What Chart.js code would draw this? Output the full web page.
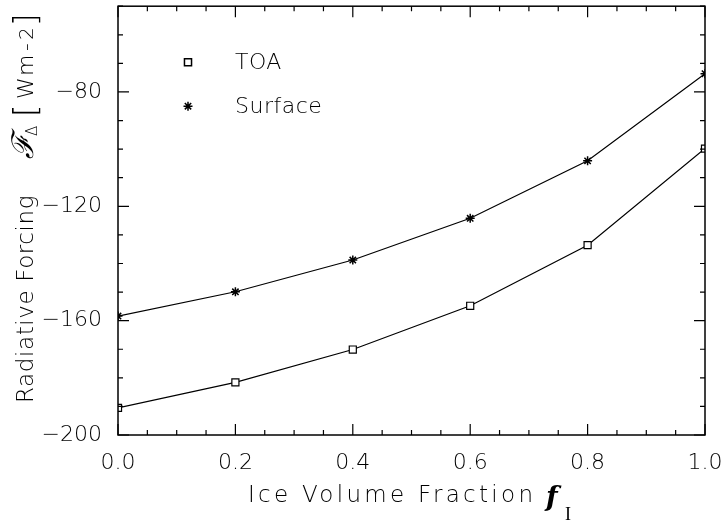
<!DOCTYPE html>
<html>
<head>
<meta charset="utf-8">
<script src="https://cdn.jsdelivr.net/npm/chart.js@4/dist/chart.umd.min.js"></script>
<style>
  html, body { margin: 0; padding: 0; background: #fff; }
  #wrap { width: 724px; height: 522px; }
</style>
</head>
<body>
<div id="wrap"><canvas id="chart" width="724" height="522"></canvas></div>
<script>
// data
const fractions = [0.0, 0.2, 0.4, 0.6, 0.8, 1.0];
const toaForcing = [-190.5, -181.6, -170.1, -154.8, -133.6, -99.8];
const surfaceForcing = [-158.4, -149.9, -138.8, -124.2, -104.1, -73.6];
const seriesNames = ['TOA', 'Surface'];
const yLabelValues = [-200, -160, -120, -80];
const xLabelValues = [0.0, 0.2, 0.4, 0.6, 0.8, 1.0];

const FONT = '"DejaVu Sans", sans-serif';
const W = '200';
const toPoints = ys => fractions.map((x, i) => ({ x, y: ys[i] }));

// frame on four sides with inward ticks
const framePlugin = {
  id: 'frame',
  afterDatasetsDraw(chart) {
    const { ctx, chartArea: a, scales } = chart;
    ctx.save();
    ctx.strokeStyle = '#000';
    ctx.lineWidth = 1.5;
    ctx.strokeRect(a.left, a.top, a.right - a.left, a.bottom - a.top);
    ctx.lineWidth = 1.2;
    ctx.beginPath();
    scales.x.ticks.forEach(t => {
      const px = scales.x.getPixelForValue(t.value);
      const major = xLabelValues.some(v => Math.abs(v - t.value) < 1e-6);
      const len = major ? 11 : 5;
      ctx.moveTo(px, a.bottom); ctx.lineTo(px, a.bottom - len);
      ctx.moveTo(px, a.top); ctx.lineTo(px, a.top + len);
    });
    scales.y.ticks.forEach(t => {
      const py = scales.y.getPixelForValue(t.value);
      const major = yLabelValues.includes(t.value);
      const len = major ? 11 : 5;
      ctx.moveTo(a.left, py); ctx.lineTo(a.left + len, py);
      ctx.moveTo(a.right, py); ctx.lineTo(a.right - len, py);
    });
    ctx.stroke();
    ctx.restore();
  }
};

// legend inside plot, top left
const innerLegend = {
  id: 'innerLegend',
  afterDraw(chart) {
    const { ctx, chartArea: a } = chart;
    ctx.save();
    chart.data.datasets.forEach((ds, i) => {
      const x = a.left + 70;
      const y = a.top + 56 + i * 44;
      ctx.fillStyle = '#fff';
      ctx.strokeStyle = '#000';
      ctx.lineWidth = 1.5;
      Chart.helpers.drawPoint(ctx, {
        pointStyle: ds.pointStyle, radius: ds.pointRadius, borderWidth: 1.5, rotation: 0
      }, x, y);
      ctx.fillStyle = '#000';
      ctx.font = W + ' 22px ' + FONT;
      ctx.letterSpacing = '0.5px';
      ctx.textBaseline = 'middle';
      ctx.fillText(ds.label, x + 47, y + 1);
    });
    ctx.restore();
  }
};

// axis titles with sub/italic parts
const axisTitles = {
  id: 'axisTitles',
  afterDraw(chart) {
    const { ctx } = chart;
    ctx.save();
    ctx.fillStyle = '#000';
    ctx.textBaseline = 'alphabetic';

    // x title
    ctx.font = W + ' 23px ' + FONT;
    ctx.letterSpacing = '3.3px';
    ctx.fillText('Ice Volume Fraction', 248, 502);
    ctx.letterSpacing = '0px';
    ctx.font = 'italic bold 27px "DejaVu Serif", serif';
    ctx.fillText('f', 546, 506);
    ctx.font = '18px "Liberation Serif", serif';
    ctx.fillText('I', 565, 520);

    // y title, rotated (x offsets run upward from the bottom)
    ctx.translate(33, 403);
    ctx.rotate(-Math.PI / 2);
    ctx.font = W + ' 23px ' + FONT;
    ctx.letterSpacing = '0.6px';
    ctx.fillText('Radiative Forcing', 0, 0);
    ctx.letterSpacing = '0px';
    ctx.font = 'italic 30px "DejaVu Serif", serif';
    ctx.fillText('ℱ', 244, 0);
    ctx.font = W + ' 15px ' + FONT;
    ctx.fillText('Δ', 267, 4);
    ctx.font = W + ' 32px ' + FONT;
    ctx.fillText('[', 286, 3);
    ctx.font = W + ' 22px ' + FONT;
    ctx.fillText('W', 304, 0);
    ctx.fillText('m', 327, 0);
    ctx.fillText('-', 352, 0);
    ctx.font = W + ' 20px ' + FONT;
    ctx.fillText('2', 363, 0);
    ctx.font = W + ' 32px ' + FONT;
    ctx.fillText(']', 377, 3);
    ctx.restore();
  }
};

new Chart(document.getElementById('chart'), {
  type: 'line',
  data: {
    datasets: [
      {
        label: seriesNames[0],
        data: toPoints(toaForcing),
        borderColor: '#000',
        borderWidth: 1.2,
        pointStyle: 'rect',
        pointRadius: 5,
        pointBorderWidth: 1.2,
        pointBorderColor: '#000',
        pointBackgroundColor: '#fff',
        tension: 0
      },
      {
        label: seriesNames[1],
        data: toPoints(surfaceForcing),
        borderColor: '#000',
        borderWidth: 1.2,
        pointStyle: 'star',
        pointRadius: 4.5,
        pointBorderWidth: 1.5,
        pointBorderColor: '#000',
        pointBackgroundColor: '#000',
        tension: 0
      }
    ]
  },
  options: {
    responsive: false,
    animation: false,
    events: [],
    layout: { padding: { top: 3, right: 19, left: 0, bottom: 0 } },
    plugins: { legend: { display: false }, tooltip: { enabled: false } },
    scales: {
      x: {
        type: 'linear',
        min: 0,
        max: 1,
        grid: { display: false },
        border: { display: false },
        afterFit: s => { s.height = 87; s.paddingLeft = 0; s.paddingRight = 0; },
        afterBuildTicks: s => {
          const t = [];
          for (let i = 0; i <= 20; i++) t.push({ value: i / 20 });
          s.ticks = t;
        },
        ticks: {
          autoSkip: false,
          maxRotation: 0,
          padding: 7,
          color: '#000',
          font: { family: FONT, size: 22, weight: W },
          callback: v => xLabelValues.some(l => Math.abs(l - v) < 1e-6) ? v.toFixed(1) : ''
        }
      },
      y: {
        type: 'linear',
        min: -200,
        max: -50,
        grid: { display: false },
        border: { display: false },
        afterFit: s => { s.width = 118; s.paddingTop = 0; s.paddingBottom = 0; },
        ticks: {
          stepSize: 10,
          autoSkip: false,
          padding: 8,
          color: '#000',
          font: { family: FONT, size: 22, weight: W },
          callback: v => yLabelValues.includes(v) ? String(v).replace('-', '−') : ''
        }
      }
    }
  },
  plugins: [framePlugin, innerLegend, axisTitles]
});
</script>
</body>
</html>
